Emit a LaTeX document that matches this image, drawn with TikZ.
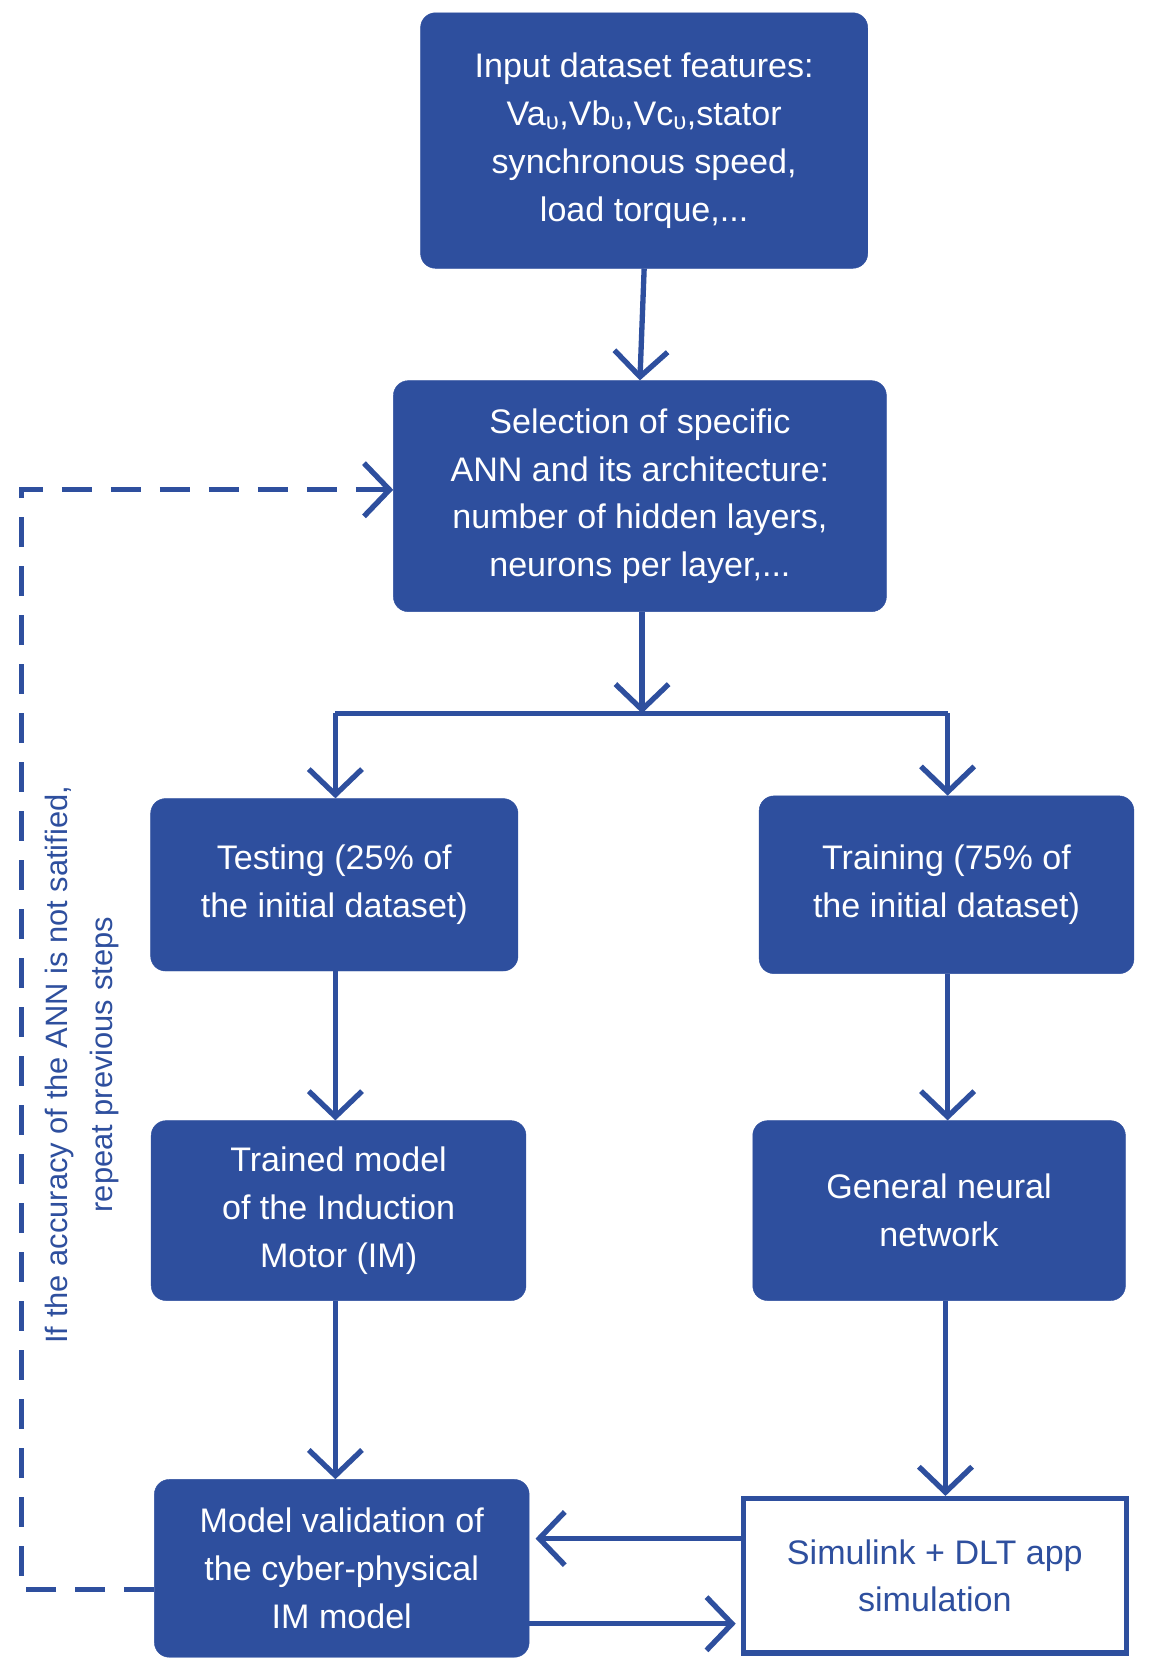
\documentclass[tikz,border=0pt]{standalone}
\usepackage{fontspec}
\setmainfont{Liberation Sans}
\usetikzlibrary{arrows.meta}
\definecolor{bl}{HTML}{2E4F9E}
\begin{document}
\begin{tikzpicture}[x=1pt,y=-1pt,
 box/.style={draw=bl,fill=bl,rounded corners=14pt,text=white,align=center,font=\fontsize{32}{45}\selectfont,inner sep=0pt},
 wbox/.style={draw=bl,line width=5pt,fill=white,text=bl,align=center,font=\fontsize{32}{45}\selectfont,inner sep=0pt},
 ar/.style={draw=bl,line width=5pt,-{Straight Barb[length=24pt,width=50pt,line width=5pt]}},
 ln/.style={draw=bl,line width=5pt}]
\useasboundingbox (0,0) rectangle (1080,1576);
\node[box,minimum width=420pt,minimum height=240pt] (b1) at (605,132) {Input dataset features:\\Va\textsubscript{υ},Vb\textsubscript{υ},Vc\textsubscript{υ},stator\\synchronous speed,\\load torque,...};
\node[box,minimum width=463pt,minimum height=217pt] (b2) at (601,466) {Selection of specific\\ANN and its architecture:\\number of hidden layers,\\neurons per layer,...};
\node[box,minimum width=345pt,minimum height=162pt] (b3) at (314,831) {Testing (25\% of\\the initial dataset)};
\node[box,minimum width=352pt,minimum height=167pt] (b4) at (889,831) {Training (75\% of\\the initial dataset)};
\node[box,minimum width=352pt,minimum height=169pt] (b5) at (318,1137) {Trained model\\of the Induction\\Motor (IM)};
\node[box,minimum width=350pt,minimum height=169pt] (b6) at (882,1137) {General neural\\network};
\node[box,minimum width=352pt,minimum height=167pt] (b7) at (321,1473) {Model validation of\\the cyber-physical\\IM model};
\node[wbox,minimum width=360pt,minimum height=145pt] (b8) at (878,1480) {Simulink + DLT app\\simulation};
\draw[ar] (b1.south) -- (b2.north);
\coordinate (sp) at (603,670);
\draw[ar] (b2.south -| sp) -- (sp);
\coordinate (sl) at (315,670);
\coordinate (sr) at (890,670);
\draw[ln] (sl) -- (sr);
\draw[ar] (sl) -- (sl |- b3.north);
\draw[ar] (sr) -- (sr |- b4.north);
\draw[ar] (b3.south -| sl) -- (sl |- b5.north);
\draw[ar] (b4.south -| sr) -- (sr |- b6.north);
\draw[ar] (b5.south -| sl) -- (sl |- b7.north);
\draw[ar] (888,1222) -- (888,1405);
\draw[ar] (b8.west |- 0,1445) -- (503,1445);
\draw[ar] (b7.east |- 0,1525) -- (691,1525);
\coordinate (d1) at (20,1493);
\coordinate (d2) at (20,460);
\draw[draw=bl,line width=5pt,dash pattern=on 28pt off 18pt,-{Straight Barb[length=24pt,width=50pt,line width=5pt]}] (b7.west |- d1) -- (d1) -- (d2) -- (b2.west |- d2);
\node[text=bl,rotate=90,align=center,font=\fontsize{29}{42}\selectfont] (t) at (77,1000) {If the accuracy of the ANN is not satified,\\repeat previous steps};
\end{tikzpicture}
\end{document}
